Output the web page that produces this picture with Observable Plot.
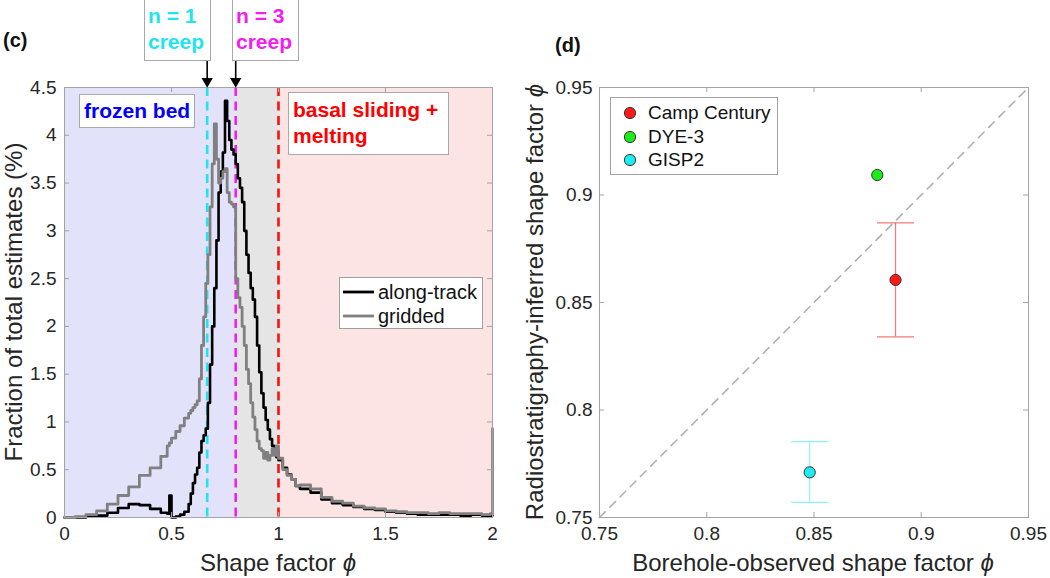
<!DOCTYPE html>
<html><head><meta charset="utf-8">
<script src="https://cdn.jsdelivr.net/npm/d3@7"></script>
<script src="https://cdn.jsdelivr.net/npm/@observablehq/plot@0.6"></script>
<style>
body{margin:0;background:#fff;font-family:"Liberation Sans",Arial,Helvetica,sans-serif;color:#262626}
#wrap{position:relative;width:1050px;height:578px;overflow:hidden;background:#fff}
#wrap svg{position:absolute;top:0;overflow:visible}
.box{position:absolute;background:#fff;border:1px solid #a8a8a8;font-weight:bold;font-size:21px;line-height:26px;box-sizing:border-box;white-space:nowrap}
.lbl{position:absolute;font-size:24px;white-space:nowrap;color:#262626}
.panel{position:absolute;font-weight:bold;font-size:20px;color:#111}
.leg{position:absolute;background:#fff;border:1px solid #a0a0a0;box-sizing:border-box;font-size:19px;color:#111}
.row{position:absolute;left:0;white-space:nowrap}
</style></head>
<body><div id="wrap"></div>
<script>
// ---------- panel (c) data ----------
const phi = [0,0.05,0.1,0.15,0.2,0.25,0.3,0.35,0.4,0.45,
  0.48,0.49,0.5,0.52,0.54,0.56,0.58,
  0.59,0.6,0.61,0.62,0.63,0.64,0.65,0.66,0.67,0.68,
  0.69,0.7,0.71,0.72,0.73,0.74,0.75,0.76,0.77,0.78,
  0.79,0.8,0.81,0.82,0.83,0.84,0.85,0.86,0.87,0.88,
  0.89,0.9,0.91,0.92,0.93,0.94,0.95,0.96,0.97,0.98,
  0.99,1.0,
  1.02,1.04,1.06,1.08,1.1,
  1.15,1.2,1.25,1.3,1.35,1.4,1.45,1.5,1.55,1.6,1.65,1.7,1.75,1.8,1.85,1.9,1.95,
  1.99,2.0];
const alongTrack = [0,0,0.01,0.02,0.05,0.1,0.14,0.13,0.09,0.05,
  0.04,0.23,0,0.01,0.03,0.06,0.14,
  0.25,0.36,0.45,0.52,0.68,0.8,0.86,0.93,1.2,1.6,
  2.0,2.4,2.9,3.4,3.62,3.82,4.36,4.15,3.95,3.85,
  3.8,3.7,3.55,3.45,3.3,3.0,2.75,2.56,2.4,2.28,
  2.1,1.8,1.52,1.3,1.15,1.02,0.92,0.82,0.75,0.68,
  0.63,0.6,
  0.52,0.45,0.4,0.33,0.3,
  0.26,0.19,0.15,0.13,0.11,0.09,0.08,0.06,0.05,0.04,0.03,0.03,0.03,0.03,0.02,0.03,0.02,
  0.02,0.02];
const gridded = [0,0.01,0.03,0.07,0.14,0.23,0.32,0.44,0.52,0.64,
  0.75,0.78,0.83,0.9,0.96,1.04,1.09,
  1.12,1.15,1.18,1.22,1.45,1.8,2.1,2.45,2.75,3.25,
  3.7,4.12,3.75,3.5,3.55,3.62,3.65,3.4,3.3,3.28,
  3.25,2.5,2.3,2.2,2.0,1.8,1.55,1.4,1.2,1.05,
  0.92,0.8,0.72,0.7,0.62,0.68,0.6,0.65,0.72,0.65,
  0.75,0.62,
  0.5,0.44,0.4,0.33,0.34,
  0.3,0.21,0.17,0.15,0.12,0.1,0.09,0.07,0.06,0.05,0.05,0.04,0.05,0.04,0.04,0.04,0.03,
  0.04,0.93];
const regionStart = [0, 0.8, 1.0];
const regionEnd = [0.8, 1.0, 2.0];
const regimeLines = [2/3, 0.8, 1.0];
const creepArrows = [2/3, 0.8];
const xTicksC = [0, 0.5, 1, 1.5, 2];
const yTicksC = [0, 0.5, 1, 1.5, 2, 2.5, 3, 3.5, 4, 4.5];

// ---------- panel (d) data ----------
const sites = ["Camp Century", "DYE-3", "GISP2"];
const boreholePhi = [0.888, 0.8795, 0.848];
const radarPhi = [0.8605, 0.9093, 0.771];
const radarLo = [0.834, null, 0.757];
const radarHi = [0.887, null, 0.7853];
const oneToOne = [0.75, 0.95];
const ticksD = [0.75, 0.8, 0.85, 0.9, 0.95];

// ---------- styles ----------
const regionFill = ["#e2e2fa", "#e5e5e5", "#fde4e4"];
const regimeColor = ["#22e4ec", "#f020f0", "#f01414"];
const siteColor = ["#ff1a1a", "#1aee1a", "#1aeef0"];
const errColor = ["#f37a7a", null, "#8cf0f4"];
const axisGray = "#a3a3a3";
const font = "'Liberation Sans', Arial, Helvetica, sans-serif";

const wrap = document.getElementById("wrap");

// ---------- panel (c) ----------
const W1 = 520, H = 578, mT = 87, mB = 61, mL1 = 64, mR1 = 28;
const pw1 = W1 - mL1 - mR1, ph = H - mT - mB;
const idx = phi.map((_, i) => i);
const svgC = Plot.plot({
  width: W1, height: H, marginLeft: mL1, marginRight: mR1, marginTop: mT, marginBottom: mB,
  style: {fontFamily: font, fontSize: "19px", color: "#262626", background: "transparent", overflow: "visible"},
  x: {domain: [0, 2]},
  y: {domain: [0, 4.5]},
  color: {type: "identity"},
  marks: [
    Plot.rect([0, 1, 2], {x1: i => regionStart[i], x2: i => regionEnd[i], fill: i => regionFill[i]}),
    Plot.ruleX([0, 1, 2], {x: i => regimeLines[i], stroke: i => regimeColor[i], strokeWidth: 2.6, strokeDasharray: "9,5.5"}),
    Plot.line(idx, {x: i => phi[i], y: i => alongTrack[i], curve: "step-after", stroke: "#000", strokeWidth: 2.6}),
    Plot.line(idx, {x: i => phi[i], y: i => gridded[i], curve: "step-after", stroke: "#808080", strokeWidth: 2.8}),
    Plot.frame({stroke: axisGray}),
    Plot.ruleX(xTicksC, {x: d => d, insetTop: ph - 5, stroke: axisGray}),
    Plot.ruleX(xTicksC, {x: d => d, insetBottom: ph - 5, stroke: axisGray}),
    Plot.ruleY(yTicksC, {y: d => d, insetRight: pw1 - 5, stroke: axisGray}),
    Plot.ruleY(yTicksC, {y: d => d, insetLeft: pw1 - 5, stroke: axisGray}),
    Plot.ruleX(creepArrows, {x: d => d, insetTop: -27, insetBottom: ph + 6, stroke: "#000", strokeWidth: 1.6}),
    Plot.dot(creepArrows, {x: d => d, frameAnchor: "top", symbol: "triangle", rotate: 180, r: 4.2, dy: -6.3, fill: "#000", stroke: "none"}),
    Plot.axisX({ticks: xTicksC, tickSize: 0, tickPadding: 9, tickFormat: d => String(d), label: null, fill: "#262626"}),
    Plot.axisY({ticks: yTicksC, tickSize: 0, tickPadding: 8, tickFormat: d => String(d), label: null, fill: "#262626"})
  ]
});
svgC.style.left = "0px";
wrap.appendChild(svgC);

// ---------- panel (d) ----------
const W2 = 530, mL2 = 79, mR2 = 22;
const errIdx = [0, 2];
const capSymbol = {draw(ctx) { ctx.moveTo(-18.5, 0); ctx.lineTo(18.5, 0); }};
const pw2 = W2 - mL2 - mR2;
const svgD = Plot.plot({
  width: W2, height: H, marginLeft: mL2, marginRight: mR2, marginTop: mT, marginBottom: mB,
  style: {fontFamily: font, fontSize: "19px", color: "#262626", background: "transparent", overflow: "visible"},
  x: {domain: [0.75, 0.95]},
  y: {domain: [0.75, 0.95]},
  color: {type: "identity"},
  marks: [
    Plot.line(oneToOne, {x: d => d, y: d => d, stroke: "#b0b0b0", strokeWidth: 1.6, strokeDasharray: "8,6.5"}),
    Plot.ruleX(errIdx, {x: i => boreholePhi[i], y1: i => radarLo[i], y2: i => radarHi[i], stroke: i => errColor[i], strokeWidth: 1.2}),
    Plot.dot(errIdx, {x: i => boreholePhi[i], y: i => radarLo[i], symbol: capSymbol, fill: "none", stroke: i => errColor[i], strokeWidth: 1.2}),
    Plot.dot(errIdx, {x: i => boreholePhi[i], y: i => radarHi[i], symbol: capSymbol, fill: "none", stroke: i => errColor[i], strokeWidth: 1.2}),
    Plot.dot([0, 1, 2], {x: i => boreholePhi[i], y: i => radarPhi[i], r: 5.6, fill: i => siteColor[i], stroke: "#333", strokeWidth: 1}),
    Plot.frame({stroke: axisGray}),
    Plot.ruleX(ticksD, {x: d => d, insetTop: ph - 5, stroke: axisGray}),
    Plot.ruleX(ticksD, {x: d => d, insetBottom: ph - 5, stroke: axisGray}),
    Plot.ruleY(ticksD, {y: d => d, insetRight: pw2 - 5, stroke: axisGray}),
    Plot.ruleY(ticksD, {y: d => d, insetLeft: pw2 - 5, stroke: axisGray}),
    Plot.axisX({ticks: ticksD, tickSize: 0, tickPadding: 9, tickFormat: d => String(d), label: null, fill: "#262626"}),
    Plot.axisY({ticks: ticksD, tickSize: 0, tickPadding: 7, tickFormat: d => String(d), label: null, fill: "#262626"})
  ]
});
svgD.style.left = "520px";
wrap.appendChild(svgD);

// ---------- text overlays ----------
function add(html, cls, css) {
  const el = document.createElement("div");
  el.className = cls; el.innerHTML = html; el.style.cssText += css; wrap.appendChild(el); return el;
}
add("(c)", "panel", "left:3px;top:29px;");
add("(d)", "panel", "left:555px;top:34px;");
add("n = 1<br>creep", "box", `left:144px;top:-1px;width:67px;height:62px;padding:3px 0 0 3px;color:${regimeColor[0]};`);
add("n = 3<br>creep", "box", `left:232px;top:-1px;width:67px;height:62px;padding:3px 0 0 3px;color:${regimeColor[1]};`);
add("frozen bed", "box", "left:79px;top:94px;width:116px;height:34px;padding:3px 0 0 4px;color:#0000ff;");
add("basal sliding +<br>melting", "box", "left:288px;top:92px;width:161px;height:63px;padding:4px 0 0 4px;color:#ff0000;");

// axis labels
add("Fraction of total estimates (%)", "lbl", "left:14px;top:302px;transform:translate(-50%,-50%) rotate(-90deg);");
add("Shape factor <i>ϕ</i>", "lbl", "left:278px;top:563px;transform:translate(-50%,-50%);");
add("Radiostratigraphy-inferred shape factor <i>ϕ</i>", "lbl", "left:535px;top:302px;transform:translate(-50%,-50%) rotate(-90deg);");
add("Borehole-observed shape factor <i>ϕ</i>", "lbl", "left:813px;top:563px;transform:translate(-50%,-50%);");

// legend (c)
const legC = add("", "leg", "left:339px;top:277px;width:144px;height:52px;font-size:20px;");
const seriesNames = ["along-track", "gridded"];
const seriesColors = ["#000", "#808080"];
seriesNames.forEach((n, i) => {
  legC.insertAdjacentHTML("beforeend",
    `<div class="row" style="top:${i * 24 + 2}px;height:24px;line-height:24px;">
      <svg width="34" height="24" style="position:absolute;left:3px;top:0;overflow:visible"><line x1="0" x2="31" y1="12" y2="12" stroke="${seriesColors[i]}" stroke-width="2.8"/></svg>
      <span style="position:absolute;left:38px;">${n}</span></div>`);
});

// legend (d)
const legD = add("", "leg", "left:610px;top:97px;width:168px;height:78px;");
sites.forEach((n, i) => {
  legD.insertAdjacentHTML("beforeend",
    `<div class="row" style="top:${i * 23.5 + 3}px;height:24px;line-height:24px;">
      <svg width="20" height="24" style="position:absolute;left:11px;top:0;overflow:visible"><circle cx="8" cy="12" r="5.6" fill="${siteColor[i]}" stroke="#333" stroke-width="1"/></svg>
      <span style="position:absolute;left:37px;">${n}</span></div>`);
});
</script>
</body></html>
